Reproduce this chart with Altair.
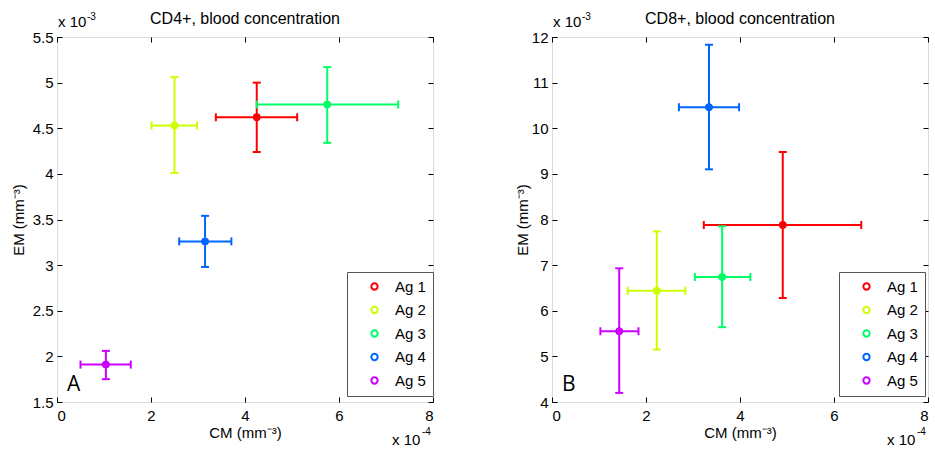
import altair as alt
import pandas as pd

ags = ["Ag 1", "Ag 2", "Ag 3", "Ag 4", "Ag 5"]
colors = ["#ff0000", "#ccff00", "#00ff66", "#0066ff", "#cc00ff"]
x_ticks = [0, 2, 4, 6, 8]

# CD4+ panel  (x in units of 1e-4 mm^-3, y in units of 1e-3 mm^-3)
cd4_x = [4.25, 2.50, 5.75, 3.15, 1.04]
cd4_xlo = [3.38, 2.01, 4.25, 2.60, 0.50]
cd4_xhi = [5.11, 2.98, 7.26, 3.71, 1.57]
cd4_y = [4.62, 4.53, 4.76, 3.26, 1.91]
cd4_ylo = [4.24, 4.01, 4.34, 2.98, 1.75]
cd4_yhi = [5.00, 5.06, 5.17, 3.54, 2.06]
cd4_yticks = [1.5, 2, 2.5, 3, 3.5, 4, 4.5, 5, 5.5]

# CD8+ panel
cd8_x = [4.91, 2.23, 3.62, 3.34, 1.43]
cd8_xlo = [3.23, 1.61, 3.04, 2.70, 1.03]
cd8_xhi = [6.58, 2.84, 4.22, 3.98, 1.84]
cd8_y = [7.88, 6.44, 6.74, 10.46, 5.55]
cd8_ylo = [6.28, 5.15, 5.64, 9.10, 4.20]
cd8_yhi = [9.48, 7.74, 7.85, 11.83, 6.93]
cd8_yticks = [4, 5, 6, 7, 8, 9, 10, 11, 12]

W, H = 376, 365
FONT = "Liberation Sans"


def tick_axis(orient, off, vals):
    return alt.Axis(orient=orient, offset=off, values=vals, labels=False, domain=False,
                    ticks=True, tickSize=5, tickColor="black", tickWidth=1,
                    title=None, grid=False)


def panel(title, x, xlo, xhi, y, ylo, yhi, yticks, letter, legx, ytpad):
    df = pd.DataFrame(dict(ag=ags, col=colors, x=x, xlo=xlo, xhi=xhi, y=y, ylo=ylo,
                           yhi=yhi))
    xs = alt.Scale(domain=[x_ticks[0], x_ticks[-1]], nice=False, zero=False)
    ys = alt.Scale(domain=[yticks[0], yticks[-1]], nice=False, zero=False)
    main_x = alt.Axis(values=x_ticks, title="CM (mm⁻³)", tickSize=0, labelPadding=6,
                      titlePadding=2, domain=False, grid=False, format="~g",
                      labelFont=FONT, labelFontSize=15, labelColor="black",
                      titleFont=FONT, titleFontSize=15, titleFontWeight="normal",
                      titleColor="black")
    main_y = alt.Axis(values=yticks, title="EM (mm⁻³)", tickSize=0, labelPadding=4,
                      titlePadding=ytpad, domain=False, grid=False, format="~g",
                      labelFont=FONT, labelFontSize=15, labelColor="black",
                      titleFont=FONT, titleFontSize=15, titleFontWeight="normal",
                      titleColor="black")
    stroke = alt.Stroke("col:N", scale=None)
    fill = alt.Fill("col:N", scale=None)
    color_leg = alt.Stroke("ag:N", scale=alt.Scale(domain=ags, range=colors),
                           legend=alt.Legend(orient="none", legendX=legx, legendY=235,
                                             title=None, strokeColor="#555555",
                                             fillColor="white", padding=7,
                                             symbolType="circle", symbolSize=40,
                                             symbolStrokeWidth=2, symbolOffset=13,
                                             symbolFillColor="white",
                                             labelOffset=13, labelFont=FONT,
                                             labelFontSize=15, labelColor="black",
                                             rowPadding=7.5))
    base = alt.Chart(df)
    ring = base.mark_point(filled=False, size=30, strokeWidth=2, opacity=1).encode(
        x=alt.X("x:Q", scale=xs, axis=None), y=alt.Y("y:Q", scale=ys, axis=None),
        stroke=color_leg)
    hbar = base.mark_rule(strokeWidth=2, opacity=1).encode(
        x=alt.X("xlo:Q", scale=xs, axis=main_x), x2="xhi:Q",
        y=alt.Y("y:Q", scale=ys, axis=main_y), stroke=stroke)
    vbar = base.mark_rule(strokeWidth=2, opacity=1).encode(
        x=alt.X("x:Q", scale=xs, axis=tick_axis("top", -H, x_ticks)),
        y=alt.Y("ylo:Q", scale=ys, axis=tick_axis("right", -W, yticks)), y2="yhi:Q",
        stroke=stroke)
    cap1 = base.mark_tick(orient="vertical", size=8, thickness=2, opacity=1).encode(
        x=alt.X("xlo:Q", scale=xs, axis=tick_axis("bottom", -H, x_ticks)),
        y=alt.Y("y:Q", scale=ys, axis=tick_axis("left", -W, yticks)), fill=fill)
    cap2 = base.mark_tick(orient="vertical", size=8, thickness=2, opacity=1).encode(
        x=alt.X("xhi:Q", scale=xs, axis=None),
        y=alt.Y("y:Q", scale=ys, axis=None), fill=fill)
    cap3 = base.mark_tick(orient="horizontal", size=8, thickness=2, opacity=1).encode(
        x=alt.X("x:Q", scale=xs, axis=None),
        y=alt.Y("ylo:Q", scale=ys, axis=None), fill=fill)
    cap4 = base.mark_tick(orient="horizontal", size=8, thickness=2, opacity=1).encode(
        x=alt.X("x:Q", scale=xs, axis=None),
        y=alt.Y("yhi:Q", scale=ys, axis=None), fill=fill)
    dot = base.mark_circle(size=55, opacity=1).encode(
        x=alt.X("x:Q", scale=xs, axis=None), y=alt.Y("y:Q", scale=ys, axis=None),
        fill=fill)

    def txt(s, px, py, size, align="left", font=FONT):
        return alt.Chart(pd.DataFrame({"t": [s]})).mark_text(
            align=align, baseline="alphabetic", fontSize=size, font=font,
            color="black").encode(x=alt.value(px), y=alt.value(py), text="t:N")

    ann = [
        txt(title, W / 2, -13, 16, align="center"),
        txt("x 10", 1, -10, 15),
        txt("-3", 30, -17, 10),
        txt("x 10", W - 41, H + 43, 15),
        txt("-4", W - 11, H + 33, 10),
        txt(letter, 10, H - 11, 21, font="Open Sans"),
    ]
    return alt.layer(ring, hbar, vbar, cap1, cap2, cap3, cap4, dot, *ann).resolve_axis(
        x="independent", y="independent").properties(width=W, height=H)


left = panel("CD4+, blood concentration", cd4_x, cd4_xlo, cd4_xhi, cd4_y, cd4_ylo,
             cd4_yhi, cd4_yticks, "A", 290, 6)
right = panel("CD8+, blood concentration", cd8_x, cd8_xlo, cd8_xhi, cd8_y, cd8_ylo,
              cd8_yhi, cd8_yticks, "B", 287, 1)

chart = alt.hconcat(left, right, spacing=119, bounds="flush").resolve_scale(
    stroke="independent").properties(
    padding={"left": 10, "top": 10, "right": 0, "bottom": 0}).configure_view(
    stroke="black", strokeWidth=1).configure(background="white")

chart.save("out.html", embed_options={"renderer": "svg", "actions": False})
